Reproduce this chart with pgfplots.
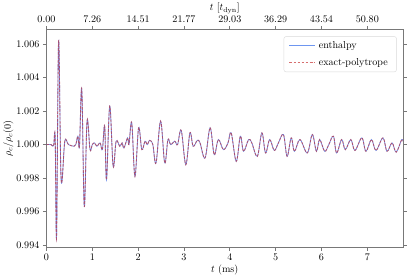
\documentclass[border=0pt]{standalone}
\usepackage{pgfplots}
\pgfplotsset{compat=1.18}
\definecolor{spine}{RGB}{120,120,120}
\definecolor{cblue}{RGB}{65,105,225}
\definecolor{cred}{RGB}{200,40,40}
\definecolor{legblue}{RGB}{110,150,240}
\definecolor{legred}{RGB}{215,110,110}
\pgfplotstableread{
t y
0.00 1.0000
0.10 1.0000
0.14 0.9999
0.16 1.0000
0.19 1.0004
0.22 0.9945
0.265 1.0062
0.32 0.9979
0.40 1.0002
0.48 1.0000
0.60 0.9999
0.64 1.0000
0.685 1.0005
0.72 0.9999
0.77 1.0033
0.825 0.9963
0.885 1.0014
0.95 0.9997
1.00 1.0000
1.05 1.0001
1.10 0.9999
1.17 1.0001
1.22 0.9997
1.27 1.0011
1.31 0.9979
1.38 1.0023
1.455 0.9987
1.52 1.0002
1.60 0.9999
1.65 1.0001
1.69 0.9998
1.77 1.0004
1.80 1.0000
1.86 1.0013
1.93 0.9981
2.01 1.0010
2.08 0.9997
2.15 1.0002
2.20 1.0000
2.25 1.00025
2.32 1.0000
2.39 0.9989
2.49 1.0014
2.58 0.9989
2.65 1.0003
2.71 1.0000
2.80 1.0002
2.86 1.0000
2.94 1.00085
3.04 0.9988
3.13 1.0007
3.20 0.9999
3.29 1.00025
3.35 1.0001
3.46 0.9992
3.57 1.0010
3.66 0.9994
3.75 1.0003
3.86 0.9997
3.96 1.0001
4.03 1.0007
4.14 0.9990
4.23 1.0005
4.30 0.9996
4.41 1.0003
4.48 1.0001
4.60 0.9993
4.70 1.0007
4.78 0.9995
4.87 1.0003
4.97 0.99965
5.06 1.0001
5.17 1.0006
5.25 0.9993
5.34 1.0004
5.41 0.9996
5.53 1.0003
5.69 0.9995
5.80 1.0006
5.89 0.9996
5.96 1.0003
6.07 0.9996
6.16 1.0000
6.26 1.0005
6.33 0.9995
6.44 1.0003
6.52 0.9997
6.64 1.0003
6.73 0.99965
6.88 1.0004
6.97 0.9996
7.09 1.0003
7.19 0.99965
7.34 1.0004
7.43 0.9996
7.54 1.0001
7.63 0.99955
7.75 1.0003
7.78 1.0002
}\rhodata
\begin{document}
\begin{tikzpicture}
\begin{axis}[
  scale only axis, width=353pt, height=215pt,
  xmin=0, xmax=7.78, ymin=0.99388, ymax=1.00685,
  xtick={0,1,2,3,4,5,6,7},
  ytick={0.994,0.996,0.998,1.000,1.002,1.004,1.006},
  yticklabel style={/pgf/number format/fixed,/pgf/number format/precision=3,/pgf/number format/fixed zerofill},
  xtick pos=bottom, ytick pos=both, yticklabel pos=left,
  tick align=outside, major tick length=3.5pt,
  axis line style={spine, line width=0.8pt},
  tick style={spine, line width=0.8pt},
  xlabel={$t$ (ms)}, ylabel={$\rho_c/\rho_c(0)$},
  xlabel style={yshift=3pt}, ylabel style={yshift=-4pt},
  legend style={at={(0.982,0.97)}, anchor=north east, draw=black!15, rounded corners=2pt, fill=white, inner xsep=5pt, inner ysep=3pt, row sep=4pt, nodes={inner xsep=3.5pt}},
  legend cell align=left,
]
\addplot[cblue, opacity=0.75, line width=0.8pt, smooth, tension=0.6, forget plot] table[x=t,y=y] {\rhodata};
\addplot[cred, opacity=0.6, line width=0.9pt, dash pattern=on 2.6pt off 1.3pt, smooth, tension=0.6, forget plot] table[x=t,y=y] {\rhodata};
\addlegendimage{legend image code/.code={\draw[draw=legblue, line width=0.9pt] (0pt,0pt) -- (25pt,0pt);}}
\addlegendentry{enthalpy}
\addlegendimage{legend image code/.code={\draw[draw=legred, line width=1pt, dash pattern=on 2.8pt off 1.2pt] (0pt,0pt) -- (25pt,0pt);}}
\addlegendentry{exact-polytrope}
\end{axis}
\begin{axis}[
  scale only axis, width=353pt, height=215pt,
  xmin=0, xmax=7.78, ymin=0, ymax=1,
  axis x line*=top, axis y line=none,
  axis line style={-, spine, line width=0.8pt},
  tick style={spine, line width=0.8pt},
  tick align=outside, major tick length=3.5pt,
  xtick={0,1,2,3,4,5,6,7},
  xticklabels={0.00,7.26,14.51,21.77,29.03,36.29,43.54,50.80},
  xlabel={$t$ [$t_{\rm dyn}$]},
  xlabel style={yshift=-5pt},
]
\end{axis}
\end{tikzpicture}
\end{document}
